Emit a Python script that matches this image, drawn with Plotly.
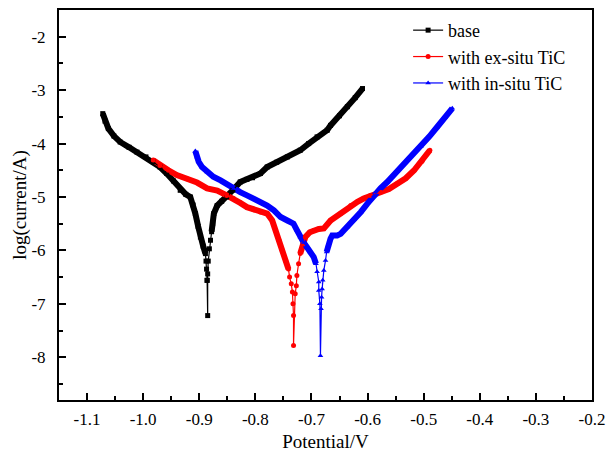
import plotly.graph_objects as go

# ---------------- data ----------------
base_v = [-1.072, -1.068, -1.062, -1.052, -1.041, -1.025, -1.011, -0.995, -0.982, -0.970,
          -0.958, -0.946, -0.934, -0.924, -0.916, -0.911, -0.907, -0.902, -0.898, -0.893,
          -0.889, -0.888, -0.887, -0.886, -0.885,
          -0.886, -0.885, -0.884, -0.882, -0.880, -0.878, -0.876, -0.874, -0.868, -0.860,
          -0.851, -0.840, -0.827, -0.815, -0.805, -0.791, -0.779, -0.762, -0.743, -0.720,
          -0.705, -0.690, -0.672, -0.666, -0.650, -0.636, -0.622, -0.609]
base_logi = [-3.44, -3.58, -3.72, -3.86, -3.97, -4.07, -4.16, -4.25, -4.34, -4.44,
             -4.56, -4.70, -4.875, -4.95, -5.00, -5.15, -5.31, -5.55, -5.75, -5.92,
             -6.06, -6.20, -6.35, -6.56, -7.22,
             -6.56, -6.44, -6.20, -5.97, -5.81, -5.65, -5.50, -5.31, -5.16, -5.08,
             -5.00, -4.87, -4.72, -4.67, -4.64, -4.56, -4.44, -4.35, -4.25, -4.125,
             -4.00, -3.875, -3.75, -3.66, -3.48, -3.31, -3.14, -2.97]

exsitu_v = [-0.982, -0.970, -0.955, -0.940, -0.922, -0.904, -0.886, -0.868, -0.851, -0.839,
            -0.827, -0.815, -0.803, -0.791, -0.779, -0.770, -0.764, -0.758, -0.752, -0.746,
            -0.741, -0.739, -0.736, -0.734, -0.733, -0.732, -0.732,
            -0.729, -0.727, -0.726, -0.723, -0.720, -0.715, -0.711, -0.703, -0.696, -0.687,
            -0.678, -0.666, -0.648, -0.630, -0.618, -0.607, -0.595, -0.577, -0.562, -0.547,
            -0.532, -0.517, -0.503, -0.489]
exsitu_logi = [-4.31, -4.41, -4.50, -4.59, -4.66, -4.73, -4.84, -4.88, -4.97, -5.03,
               -5.11, -5.19, -5.24, -5.28, -5.31, -5.44, -5.62, -5.81, -6.00, -6.19,
               -6.35, -6.50, -6.625, -6.78, -7.00, -7.22, -7.78,
               -6.81, -6.66, -6.47, -6.25, -6.06, -5.88, -5.75, -5.66, -5.625, -5.60,
               -5.59, -5.44, -5.31, -5.16, -5.09, -5.03, -4.97, -4.91, -4.85, -4.75,
               -4.65, -4.50, -4.33, -4.125]

insitu_v = [-0.907, -0.904, -0.901, -0.895, -0.886, -0.875, -0.862, -0.850, -0.839, -0.827,
            -0.815, -0.803, -0.791, -0.779, -0.767, -0.755, -0.743, -0.732, -0.726, -0.720,
            -0.714, -0.708, -0.702, -0.696, -0.692, -0.690, -0.687, -0.687, -0.685, -0.684,
            -0.683, -0.682, -0.681, -0.680, -0.678, -0.675, -0.673, -0.670, -0.666, -0.663,
            -0.654, -0.648, -0.636, -0.624, -0.612, -0.600, -0.589, -0.577, -0.565, -0.547,
            -0.526, -0.505, -0.490, -0.476, -0.462, -0.449]
insitu_logi = [-4.14, -4.25, -4.34, -4.44, -4.53, -4.62, -4.69, -4.77, -4.84, -4.91,
               -4.97, -5.03, -5.09, -5.16, -5.25, -5.375, -5.44, -5.50, -5.62, -5.75,
               -5.85, -5.94, -6.03, -6.125, -6.25, -6.40, -6.59, -6.75, -7.00, -7.97,
               -7.09, -6.875, -6.72, -6.56, -6.375, -6.19, -6.03, -5.90, -5.78, -5.72,
               -5.72, -5.69, -5.56, -5.42, -5.28, -5.12, -4.98, -4.84, -4.72, -4.52,
               -4.27, -4.06, -3.87, -3.69, -3.51, -3.34]

series_names = ["base", "with ex-situ TiC", "with in-situ TiC"]

x_tick_vals = [-1.1, -1.0, -0.9, -0.8, -0.7, -0.6, -0.5, -0.4, -0.3, -0.2]
x_tick_text = ["-1.1", "-1.0", "-0.9", "-0.8", "-0.7", "-0.6", "-0.5", "-0.4", "-0.3", "-0.2"]
y_tick_vals = [-8, -7, -6, -5, -4, -3, -2]
y_tick_text = ["-8", "-7", "-6", "-5", "-4", "-3", "-2"]

# ---------------- figure ----------------
FONT = "Liberation Serif, Times New Roman, serif"

def dense_parts(v, y, cath_end, anod_start):
    """Densely-sampled portions of the curve (drawn as a thick band)."""
    return (list(v[:cath_end + 1]) + [None] + list(v[anod_start:]),
            list(y[:cath_end + 1]) + [None] + list(y[anod_start:]))

specs = [
    (base_v, base_logi, "#000000", "square", 20, 30),
    (exsitu_v, exsitu_logi, "#ff0000", "circle", 20, 31),
    (insitu_v, insitu_logi, "#0000ff", "triangle-up", 24, 36),
]

fig = go.Figure()
for (v, y, col, sym, ce, ast), name in zip(specs, series_names):
    dv, dy = dense_parts(v, y, ce, ast)
    fig.add_trace(go.Scatter(x=dv, y=dy, mode="lines", showlegend=False,
                             line=dict(color=col, width=6), hoverinfo="skip"))
for (v, y, col, sym, ce, ast), name in zip(specs, series_names):
    fig.add_trace(go.Scatter(x=v, y=y, mode="lines+markers", name=name,
                             line=dict(color=col, width=1.2),
                             marker=dict(symbol=sym, size=5, color=col)))

axis_common = dict(
    showline=True, linecolor="#000000", linewidth=2, mirror=True,
    ticks="inside", ticklen=7, tickwidth=1.5, tickcolor="#000000",
    showgrid=False, zeroline=False, automargin=False,
    tickfont=dict(family=FONT, size=17, color="#000000"),
)

fig.update_xaxes(**axis_common, range=[-1.15, -0.2],
                 tickvals=x_tick_vals, ticktext=x_tick_text,
                 minor=dict(dtick=0.05, ticks="inside", ticklen=4, tickwidth=1.5, tickcolor="#000000"),
                 title=dict(text="Potential/V", font=dict(family=FONT, size=19, color="#000000"), standoff=6),
                 ticklabelstandoff=3)
fig.update_yaxes(**axis_common, range=[-8.8, -1.5],
                 tickvals=y_tick_vals, ticktext=y_tick_text,
                 minor=dict(dtick=0.5, ticks="inside", ticklen=4, tickwidth=1.5, tickcolor="#000000"),
                 title=dict(text="log(current/A)", font=dict(family=FONT, size=19, color="#000000"), standoff=0),
                 ticklabelstandoff=8)

fig.update_layout(
    width=607, height=452,
    margin=dict(l=59, r=15, t=10, b=52),
    paper_bgcolor="#ffffff", plot_bgcolor="#ffffff",
    font=dict(family=FONT, size=17, color="#000000"),
    legend=dict(x=0.655, y=0.995, xanchor="left", yanchor="top",
                bgcolor="rgba(0,0,0,0)", borderwidth=0,
                font=dict(family=FONT, size=18, color="#000000")),
    showlegend=True,
)

fig.write_html("out.html", config={"displayModeBar": False},
               post_script="document.body.style.margin='0px';document.body.style.overflow='hidden';")
